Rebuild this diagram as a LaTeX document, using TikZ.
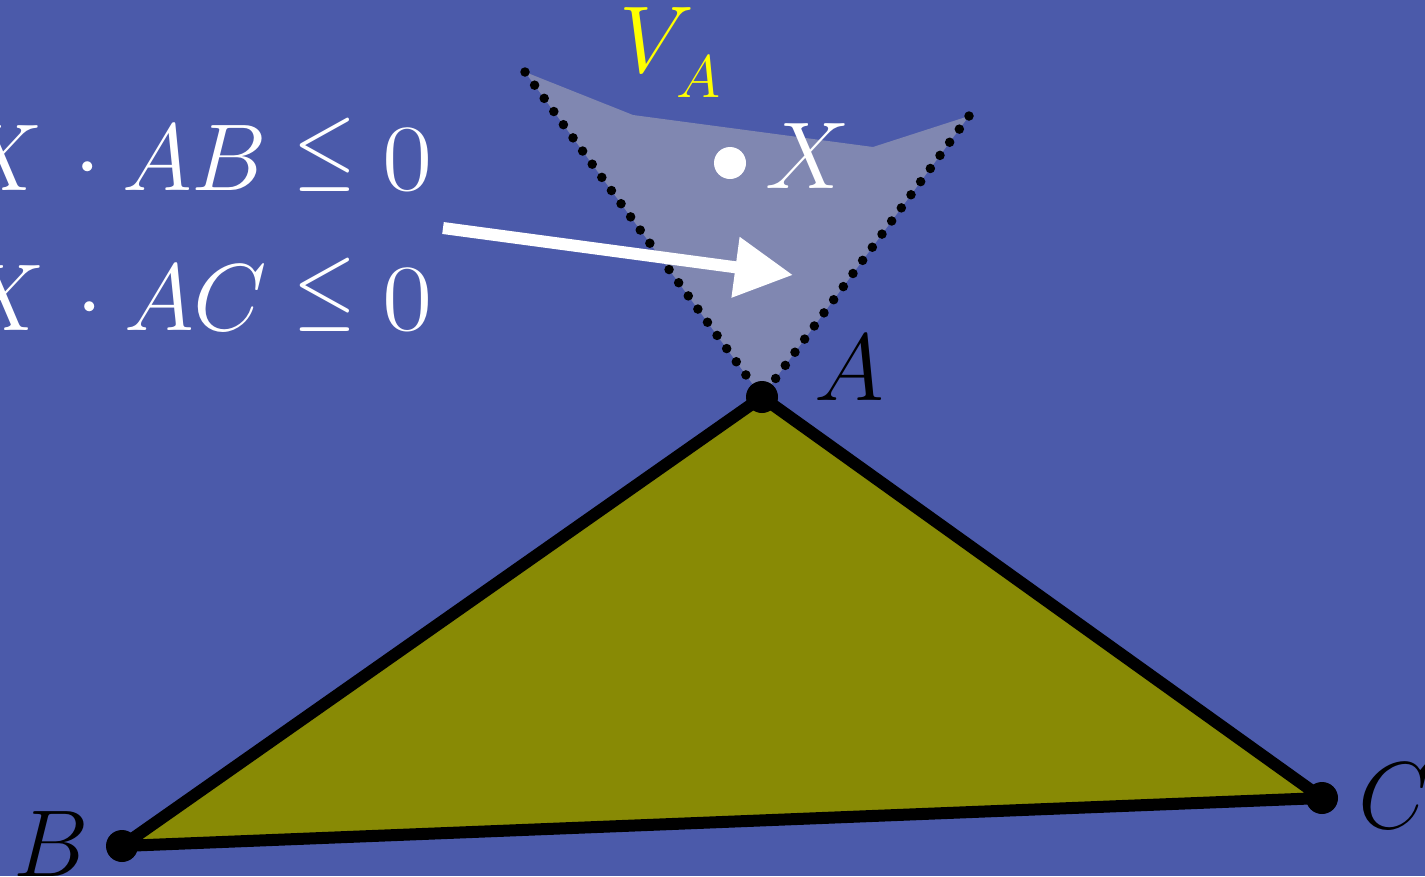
\RequirePackage{fix-cm}
\documentclass[tikz,border=0pt]{standalone}
\usepackage{graphicx}
\usetikzlibrary{arrows.meta}
\definecolor{bg}{RGB}{75,90,170}
\definecolor{regioncol}{RGB}{128,135,177}
\definecolor{olivecol}{RGB}{136,138,5}
\definecolor{yel}{RGB}{255,255,0}
\newcommand{\myleq}{\mathrel{\raisebox{12pt}{\scalebox{0.85}[1]{$\leq$}}}}
\newcommand{\myzero}{\scalebox{1.15}[1]{$0$}}
\tikzset{
  big/.style={font=\fontsize{95pt}{110pt}\selectfont, inner sep=0pt, outer sep=0pt},
  small/.style={font=\fontsize{60pt}{70pt}\selectfont, inner sep=0pt, outer sep=0pt},
  lbl/.style={big, text=black},
  vdot/.style={circle, fill=black, inner sep=0pt, minimum size=32pt},
  xdot/.style={circle, fill=white, inner sep=0pt, minimum size=32pt},
  dotline/.style={black, line width=9.5pt, line cap=round, dash pattern=on 0pt off 16.3pt},
  edge/.style={black, line width=12pt, line join=round},
}
\begin{document}
\begin{tikzpicture}[x=1pt,y=-1pt]
\fill[bg] (0,0) rectangle (1425,876);
\useasboundingbox (0,0) rectangle (1425,876);
% coordinates
\coordinate (A) at (762,397);
\coordinate (B) at (122,846);
\coordinate (C) at (1322,798);
\coordinate (P1) at (525,72);
\coordinate (P2) at (633,115);
\coordinate (P3) at (873,147);
\coordinate (P4) at (969,116);
\coordinate (as) at (443,228);
\coordinate (at) at (793,275);
% Voronoi region
\fill[regioncol] (P1) -- (P2) -- (P3) -- (P4) -- (A) -- cycle;
\draw[dotline] (P1) -- (A);
\draw[dotline] (P4) -- (A);
% triangle
\filldraw[edge, fill=olivecol] (A) -- (B) -- (C) -- cycle;
\node[vdot] (dA) at (A) {};
\node[vdot] (dB) at (B) {};
\node[vdot] (dC) at (C) {};
% point X
\node[xdot] (dX) at (730,163) {};
\node[big, anchor=base west, text=white] (lX) at (765,188) {$X$};
% labels
\node[lbl, anchor=base west] (lA) at (814,400) {$A$};
\node[lbl, anchor=base west] (lB) at (13,876) {$B$};
\node[lbl, anchor=base west] (lC) at (1358,828) {$C$};
% V_A
\node[big, anchor=base west, text=yel] (lV) at (619,72) {$V$};
\node[small, anchor=base west, text=yel] (lVs) at (676,97) {$A$};
% equations
\node[big, anchor=base east, text=white] (e1) at (433,190) {$X\mkern2mu\cdot AB\myleq\myzero$};
\node[big, anchor=base east, text=white] (e2) at (433,330) {$X\mkern2mu\cdot AC\myleq\myzero$};
% arrow
\draw[white, line width=12pt, -{Triangle[length=58pt,width=58pt]}] (as) -- (at);
\end{tikzpicture}
\end{document}
